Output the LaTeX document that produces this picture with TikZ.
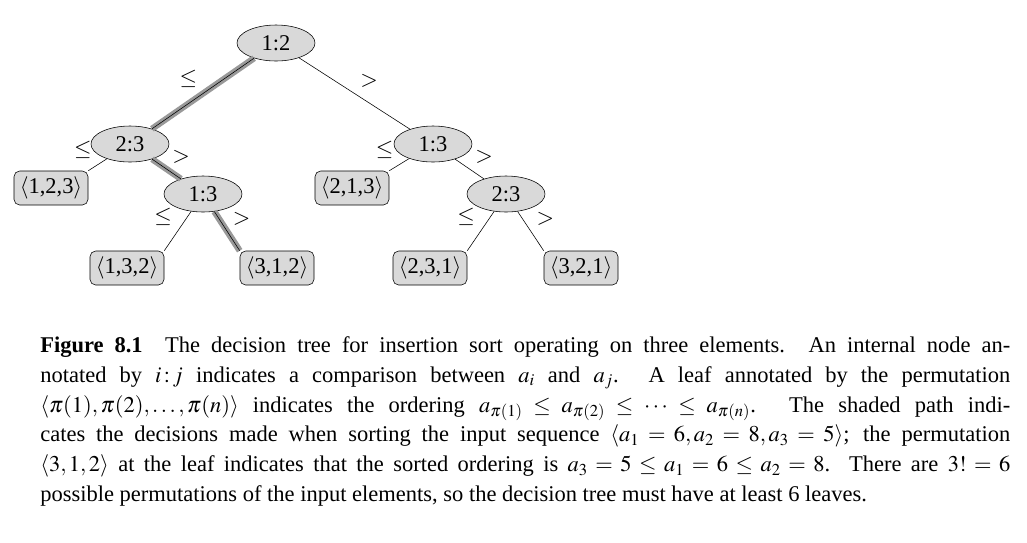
\documentclass[tikz,border=0pt]{standalone}
\usepackage{mathptmx}
\usepackage{fontspec}
\setmainfont{Liberation Serif}
\usetikzlibrary{calc, positioning, shapes}
\usepackage{amsmath}

\begin{document}
\begin{tikzpicture}[x=0.025cm, y=-0.025cm,
  every node/.style={font=\fontsize{16}{21.3}\selectfont},
  cmp/.style={ellipse, draw, fill=black!15, minimum width=78*0.025cm, minimum height=36*0.025cm, inner sep=0pt},
  leaf/.style={rounded corners=4pt, draw, fill=black!15, minimum width=74*0.025cm, minimum height=34*0.025cm, inner sep=1pt},
  edge/.style={thin},
  path/.style={line width=4.5pt, black!40},
  lbl/.style={inner sep=4pt}]
  \useasboundingbox (0,0) rectangle (1027,542);

  \node[cmp] (r) at (276,43) {1:2};
  \node[cmp] (a) at (130,144) {2:3};
  \node[cmp] (b) at (433,144) {1:3};
  \node[leaf] (l1) at (51,188) {$\langle$1,2,3$\rangle$};
  \node[cmp] (c) at (203,194) {1:3};
  \node[leaf] (l3) at (352,188) {$\langle$2,1,3$\rangle$};
  \node[cmp] (d) at (506,194) {2:3};
  \node[leaf] (l2) at (127,268) {$\langle$1,3,2$\rangle$};
  \node[leaf] (l4) at (277,268) {$\langle$3,1,2$\rangle$};
  \node[leaf] (l5) at (430,268) {$\langle$2,3,1$\rangle$};
  \node[leaf] (l6) at (581,268) {$\langle$3,2,1$\rangle$};

  % shaded path
  \draw[path] (r) -- (a);
  \draw[path] (a) -- (c);
  \draw[path] (c) -- (l4.north west);

  \draw[edge] (r) -- node[lbl, above left] {$\le$} (a);
  \draw[edge] (r) -- node[lbl, above right] {$>$} (b);
  \draw[edge] (a) -- node[lbl, above left] {$\le$} (l1.north east);
  \draw[edge] (a) -- node[lbl, above right] {$>$} (c);
  \draw[edge] (b) -- node[lbl, above left] {$\le$} (l3.north east);
  \draw[edge] (b) -- node[lbl, above right] {$>$} (d);
  \draw[edge] (c) -- node[lbl, above left] {$\le$} (l2.north east);
  \draw[edge] (c) -- node[lbl, above right] {$>$} (l4.north west);
  \draw[edge] (d) -- node[lbl, above left] {$\le$} (l5.north east);
  \draw[edge] (d) -- node[lbl, above right] {$>$} (l6.north west);

  \node[anchor=north west, text width=970*0.025cm, align=justify, inner sep=0pt] (cap) at (40,336) {%
  \textbf{Figure 8.1}\quad The decision tree for insertion sort operating on three elements. An internal node an-\linebreak
  notated by $i\,{:}\,j$ indicates a comparison between $a_i$ and $a_j$. A leaf annotated by the permutation\linebreak
  $\langle\pi(1),\pi(2),\ldots,\pi(n)\rangle$ indicates the ordering $a_{\pi(1)}\le a_{\pi(2)}\le\cdots\le a_{\pi(n)}$. The shaded path indi-\linebreak
  cates the decisions made when sorting the input sequence $\langle a_1=6, a_2=8, a_3=5\rangle$; the permutation\linebreak
  $\langle 3,1,2\rangle$ at the leaf indicates that the sorted ordering is $a_3=5\le a_1=6\le a_2=8$. There are $3!=6$\linebreak
  possible permutations of the input elements, so the decision tree must have at least 6 leaves.};
\end{tikzpicture}
\end{document}
